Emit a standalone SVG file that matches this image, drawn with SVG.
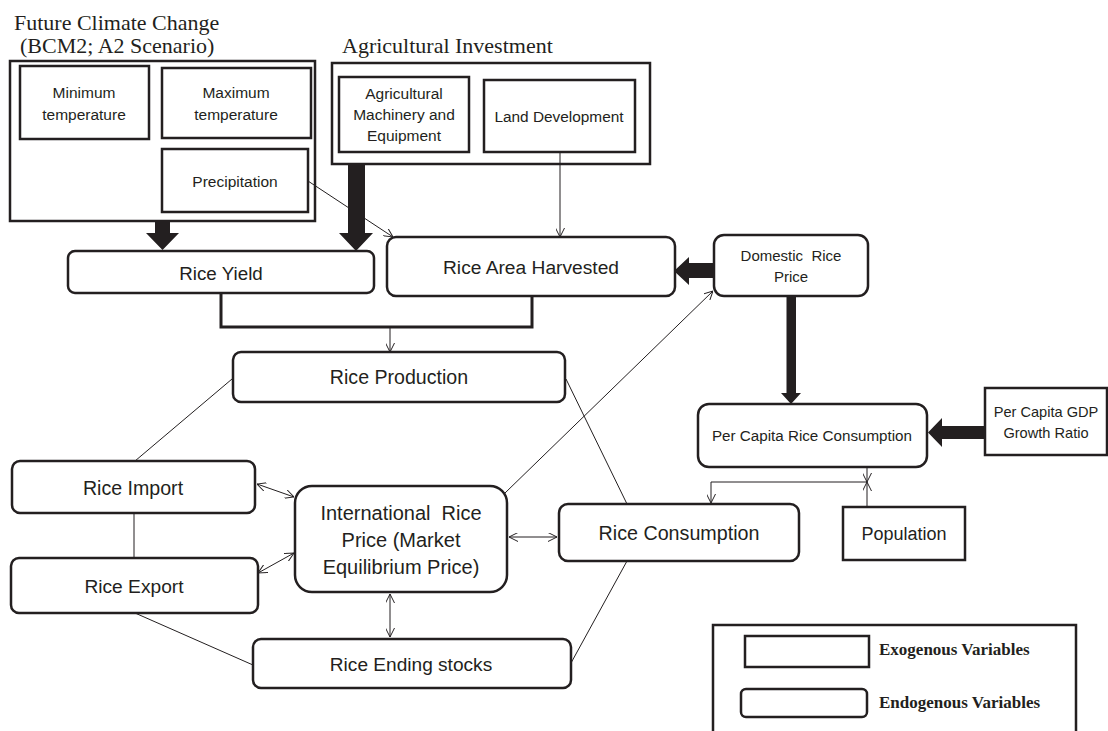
<svg xmlns="http://www.w3.org/2000/svg" width="1108" height="731" viewBox="0 0 1108 731">
<style>
.bx{fill:#fff;stroke:#231f20;stroke-width:2.5}
.gb{fill:none;stroke:#231f20;stroke-width:2.5}
.t{font-family:"Liberation Sans",Arial,sans-serif;fill:#231f20;text-anchor:middle;white-space:pre}
.tt{font-family:"Liberation Serif","Times New Roman",serif;fill:#231f20;font-size:22px}
.lg{font-family:"Liberation Serif","Times New Roman",serif;fill:#231f20;font-size:17px;font-weight:bold}
.ln{fill:none;stroke:#231f20;stroke-width:1}
.th{fill:#231f20;stroke:none}
</style>
<defs>
<marker id="ah" viewBox="0 0 10 10" refX="10" refY="5" markerWidth="9" markerHeight="9" markerUnits="userSpaceOnUse" orient="auto-start-reverse">
<path d="M0,0 L10,5 L0,10" fill="none" stroke="#231f20" stroke-width="1.1"/>
</marker>
</defs>

<g id="titles">
<text class="tt" x="14" y="30">Future Climate Change</text>
<text class="tt" x="20" y="53">(BCM2; A2 Scenario)</text>
<text class="tt" x="342" y="53">Agricultural Investment</text>
</g>

<g id="climate-group"><rect class="gb" x="10" y="61" width="305" height="160"/></g>
<g id="min-temp"><rect class="bx" x="20" y="66" width="129" height="73"/>
<text class="t" x="84" y="98" font-size="15.5">Minimum</text><text class="t" x="84" y="120" font-size="15.5">temperature</text></g>
<g id="max-temp"><rect class="bx" x="162" y="68" width="149" height="70"/>
<text class="t" x="236" y="98" font-size="15.5">Maximum</text><text class="t" x="236" y="120" font-size="15.5">temperature</text></g>
<g id="precipitation"><rect class="bx" x="162" y="149" width="146" height="63"/>
<text class="t" x="235" y="187" font-size="15.5">Precipitation</text></g>

<g id="agri-group"><rect class="gb" x="332" y="63" width="318" height="101"/></g>
<g id="agri-machinery"><rect class="bx" x="339" y="77" width="130" height="75"/>
<text class="t" x="404" y="99" font-size="15.5">Agricultural</text><text class="t" x="404" y="120" font-size="15.5">Machinery and</text><text class="t" x="404" y="141" font-size="15.5">Equipment</text></g>
<g id="land-development"><rect class="bx" x="484" y="80" width="151" height="72"/>
<text class="t" x="559" y="122" font-size="15.4">Land Development</text></g>

<g id="rice-yield"><rect class="bx" x="68" y="251" width="306" height="42" rx="7"/>
<text class="t" x="221" y="280" font-size="18.8">Rice Yield</text></g>
<g id="rice-area"><rect class="bx" x="387" y="237" width="288" height="59" rx="9"/>
<text class="t" x="531" y="274" font-size="19.2">Rice Area Harvested</text></g>
<g id="domestic-price"><rect class="bx" x="714" y="235" width="154" height="61" rx="10"/>
<text class="t" x="791" y="261" font-size="15" xml:space="preserve">Domestic  Rice</text><text class="t" x="791" y="282" font-size="15">Price</text></g>
<g id="rice-production"><rect class="bx" x="233" y="352" width="332" height="50" rx="8"/>
<text class="t" x="399" y="384" font-size="19.6">Rice Production</text></g>
<g id="per-capita-consumption"><rect class="bx" x="698" y="404" width="229" height="63" rx="11"/>
<text class="t" x="812" y="441" font-size="15.2">Per Capita Rice Consumption</text></g>
<g id="gdp-growth"><rect class="bx" x="985" y="388" width="122" height="67"/>
<text class="t" x="1046" y="417" font-size="14.6">Per Capita GDP</text><text class="t" x="1046" y="438" font-size="14.6">Growth Ratio</text></g>
<g id="rice-import"><rect class="bx" x="12" y="461" width="243" height="52" rx="8"/>
<text class="t" x="133" y="495" font-size="19.6">Rice Import</text></g>
<g id="international-price"><rect class="bx" x="295" y="486" width="212" height="106" rx="17"/>
<text class="t" x="401" y="520" font-size="20" xml:space="preserve">International  Rice</text><text class="t" x="401" y="547" font-size="20">Price (Market</text><text class="t" x="401" y="574" font-size="20">Equilibrium Price)</text></g>
<g id="rice-consumption"><rect class="bx" x="559" y="504" width="240" height="57" rx="9"/>
<text class="t" x="679" y="540" font-size="19.7">Rice Consumption</text></g>
<g id="population"><rect class="bx" x="843" y="507" width="122" height="53"/>
<text class="t" x="904" y="540" font-size="18">Population</text></g>
<g id="rice-export"><rect class="bx" x="11" y="558" width="247" height="55" rx="8"/>
<text class="t" x="134" y="593" font-size="19.2">Rice Export</text></g>
<g id="ending-stocks"><rect class="bx" x="253" y="639" width="318" height="49" rx="8"/>
<text class="t" x="411" y="671" font-size="19.1">Rice Ending stocks</text></g>

<g id="legend">
<path class="gb" d="M713,735 L713,625 L1076,625 L1076,735"/>
<rect class="bx" x="745" y="636" width="124" height="31"/>
<text class="lg" x="879" y="655">Exogenous Variables</text>
<rect class="bx" x="741" y="689" width="126" height="28" rx="5"/>
<text class="lg" x="879" y="708">Endogenous Variables</text>
</g>

<g id="connectors">
<polygon class="th" points="155,221 170,221 170,233 179,233 162.5,250 146,233 155,233"/>
<polygon class="th" points="348,164 365,164 365,233 373,233 356,251 339,233 348,233"/>
<polygon class="th" points="714,263 689,263 689,257 674,271 689,285 689,278 714,278"/>
<polygon class="th" points="786.5,296 796,296 796,393 801,393 791,404 781,393 786.5,393"/>
<polygon class="th" points="985,426 942,426 942,418 928,432.5 942,447 942,439 985,439"/>
<path d="M221,293 V327 H532 V296" fill="none" stroke="#231f20" stroke-width="3"/>
<line class="ln" x1="390" y1="327" x2="390" y2="352" marker-end="url(#ah)"/>
<line class="ln" x1="308" y1="181" x2="393" y2="237" marker-end="url(#ah)"/>
<line class="ln" x1="560" y1="152" x2="560" y2="237" marker-end="url(#ah)"/>
<line class="ln" x1="232" y1="379" x2="135" y2="461"/>
<line class="ln" x1="566" y1="379" x2="627" y2="504"/>
<line class="ln" x1="134" y1="513" x2="134" y2="558"/>
<line class="ln" x1="135" y1="613" x2="253" y2="665"/>
<line class="ln" x1="571" y1="663" x2="627" y2="561"/>
<line class="ln" x1="505" y1="493" x2="713" y2="291" marker-end="url(#ah)"/>
<line class="ln" x1="257" y1="484" x2="294" y2="497" marker-start="url(#ah)" marker-end="url(#ah)"/>
<line class="ln" x1="258" y1="573" x2="294" y2="553" marker-start="url(#ah)" marker-end="url(#ah)"/>
<line class="ln" x1="509" y1="537" x2="557" y2="537" marker-start="url(#ah)" marker-end="url(#ah)"/>
<line class="ln" x1="390" y1="594" x2="390" y2="637" marker-start="url(#ah)" marker-end="url(#ah)"/>
<line class="ln" x1="867" y1="467" x2="867" y2="482" marker-end="url(#ah)"/>
<line class="ln" x1="867" y1="507" x2="867" y2="482" marker-end="url(#ah)"/>
<path class="ln" d="M867,482 H711 V503" marker-end="url(#ah)"/>
</g>
</svg>
